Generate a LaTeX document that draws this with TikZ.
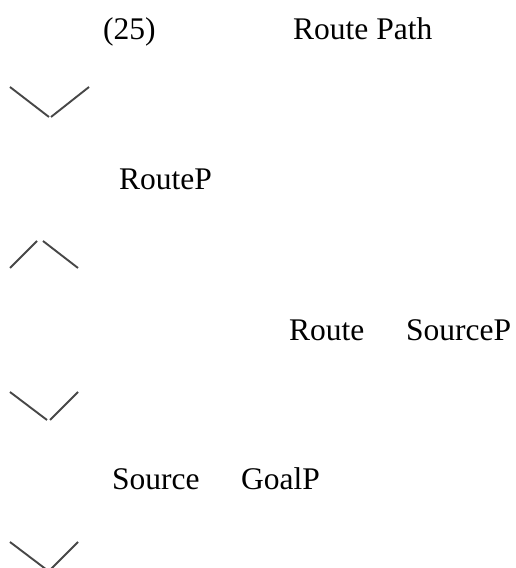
\documentclass[tikz,border=0pt]{standalone}
\usepackage{fontspec}
\setmainfont{Liberation Serif}
\begin{document}
\begin{tikzpicture}[x=1pt,y=1pt,
  lbl/.style={anchor=base west,inner sep=0pt,font=\fontsize{31.5}{36}\selectfont},
  stroke/.style={draw=black!72,line width=1.9pt}]
\useasboundingbox (0,0) rectangle (516,568);
\clip (0,0) rectangle (516,568);
% labels
\node[lbl] (n25) at (103,528) {(25)};
\node[lbl] (routepath) at (293,528) {Route Path};
\node[lbl] (routep) at (119,378) {RouteP};
\node[lbl] (route) at (289,227) {Route};
\node[lbl] (sourcep) at (406,227) {SourceP};
\node[lbl] (source) at (112,78) {Source};
\node[lbl] (goalp) at (241,78) {GoalP};
% chevron 1 (v)
\coordinate (a1) at (10,481); \coordinate (a2) at (49,451);
\coordinate (a3) at (51,451); \coordinate (a4) at (89,481);
\draw[stroke] (a1) -- (a2); \draw[stroke] (a3) -- (a4);
% chevron 2 (^)
\coordinate (b1) at (10,300); \coordinate (b2) at (37,327);
\coordinate (b3) at (43,327); \coordinate (b4) at (78,300);
\draw[stroke] (b1) -- (b2); \draw[stroke] (b3) -- (b4);
% chevron 3 (v)
\coordinate (c1) at (10,176); \coordinate (c2) at (47,148);
\coordinate (c3) at (50,148); \coordinate (c4) at (78,176);
\draw[stroke] (c1) -- (c2); \draw[stroke] (c3) -- (c4);
% chevron 4 (v, cut by the lower edge)
\coordinate (d1) at (10,26); \coordinate (d2) at (47,-2);
\coordinate (d3) at (50,-2); \coordinate (d4) at (78,26);
\draw[stroke] (d1) -- (d2); \draw[stroke] (d3) -- (d4);
\end{tikzpicture}
\end{document}
